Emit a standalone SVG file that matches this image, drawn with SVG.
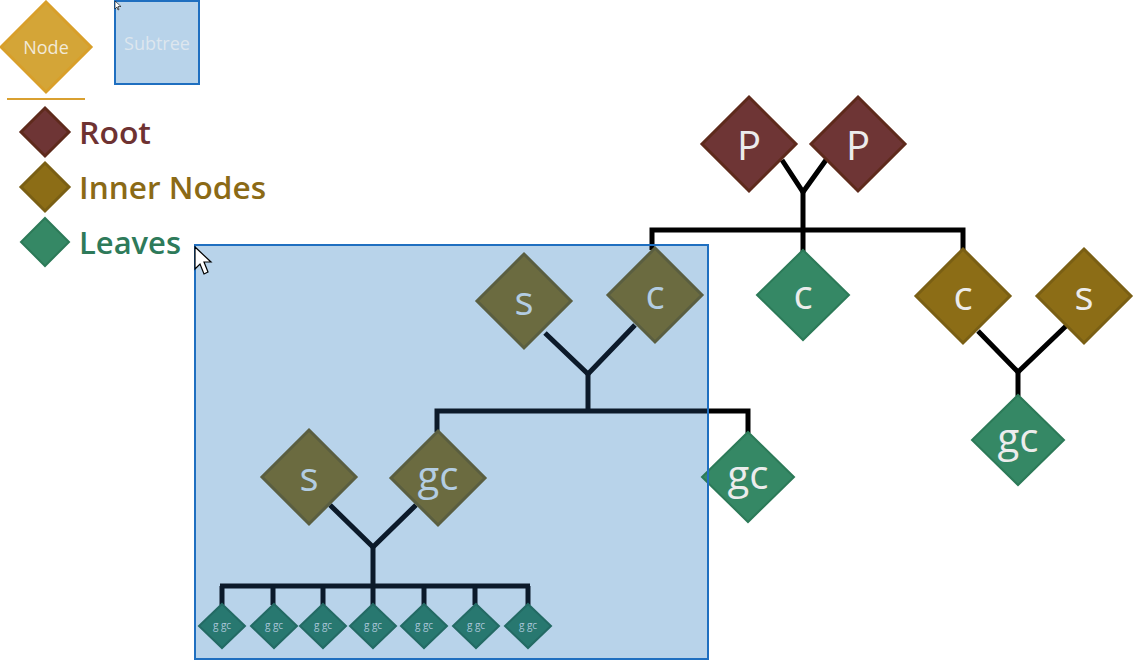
<svg xmlns="http://www.w3.org/2000/svg" width="1134" height="661" viewBox="0 0 1134 661">
<style>
text{font-family:"Open Sans","Noto Sans",sans-serif;text-anchor:middle;dominant-baseline:central}
.root{fill:#6e3535;stroke:#5e2a1c;stroke-width:3}
.inner{fill:#8c6d16;stroke:#7a5f14;stroke-width:3}
.leaf{fill:#358865;stroke:#2c7a58;stroke-width:2}
.tin{fill:#6b6b40;stroke:#5a5e40;stroke-width:3}
.tleaf{fill:#287870;stroke:#236a64;stroke-width:2}
.lbl{fill:#ececec;font-size:40px}
.tlbl{fill:#b3cde3;font-size:40px}
.slbl{fill:#a9c6d8;font-size:10px}
.ln{stroke:#000;stroke-width:5;fill:none;stroke-linecap:butt}
.nv{stroke:#0c1a2a;stroke-width:5;fill:none}
.leg{font-size:31px;font-weight:600;text-anchor:start}
</style>

<!-- Legend -->
<g id="legend-node">
<polygon points="46,2 91,47 46,92 1,47" fill="#d4a537" stroke="#d89f2a" stroke-width="3"/>
<text x="46" y="47" font-size="18" fill="#f2ead8">Node</text>
</g>
<g id="legend-subtree">
<rect x="115" y="1" width="84" height="83" fill="#b8d3ea" stroke="#1f6fc0" stroke-width="2"/>
<text x="157" y="43" font-size="18" fill="#dde6ee">Subtree</text>
</g>
<line x1="7" y1="99" x2="85" y2="99" stroke="#d9a030" stroke-width="2"/>
<g id="legend-root">
<polygon points="45,108 69,132 45,156 21,132" class="root" stroke-width="2"/>
<text x="79" y="132" class="leg" fill="#6e3232" textLength="72" lengthAdjust="spacingAndGlyphs">Root</text>
</g>
<g id="legend-inner">
<polygon points="45,163 69,187 45,211 21,187" class="inner" stroke-width="2"/>
<text x="79" y="187" class="leg" fill="#8b6a16" textLength="187" lengthAdjust="spacingAndGlyphs">Inner Nodes</text>
</g>
<g id="legend-leaves">
<polygon points="45,218 69,242 45,266 21,242" class="leaf"/>
<text x="79" y="242" class="leg" fill="#2e7a5a" textLength="102" lengthAdjust="spacingAndGlyphs">Leaves</text>
</g>

<!-- Subtree box fill -->
<rect id="subtree-box" x="195" y="245" width="513" height="414" fill="#b8d3ea"/>

<!-- Connectors -->
<g id="connectors">
<polyline class="ln" points="782,160 803,192 826,160"/>
<line class="ln" x1="803" y1="190" x2="803" y2="252"/>
<polyline class="ln" points="652,250 652,230 963,230 963,252"/>
<polyline class="ln" points="978,331 1018,372 1066,326"/>
<line class="ln" x1="1018" y1="370" x2="1018" y2="396"/>
<polyline class="nv" points="545,333 588,374 635,325"/>
<line class="nv" x1="588" y1="372" x2="588" y2="411"/>
<polyline class="nv" points="437,432 437,411 708,411"/>
<polyline class="ln" points="708,411 748,411 748,433"/>
<polyline class="nv" points="330,505 373,547 416,505"/>
<line class="nv" x1="373" y1="545" x2="373" y2="586"/>
<line class="nv" x1="220" y1="586" x2="530" y2="586"/>
<path class="nv" d="M222,586V605M273,586V605M323,586V605M373,586V605M424,586V605M475,586V605M528,586V605"/>
</g>

<!-- Nodes outside subtree -->
<g id="p1"><polygon class="root" points="749,97 796,144 749,191 702,144"/><text class="lbl" x="749" y="144">P</text></g>
<g id="p2"><polygon class="root" points="858,97 905,144 858,191 811,144"/><text class="lbl" x="858" y="144">P</text></g>
<g id="c-leaf"><polygon class="leaf" points="803,250 849,295 803,340 757,295"/><text class="lbl" x="803" y="293">c</text></g>
<g id="c-inner"><polygon class="inner" points="963,249 1010,296 963,343 916,296"/><text class="lbl" x="963" y="294">c</text></g>
<g id="s-inner"><polygon class="inner" points="1084,249 1131,296 1084,343 1037,296"/><text class="lbl" x="1084" y="294">s</text></g>
<g id="gc-right"><polygon class="leaf" points="1018,395 1064,440 1018,485 972,440"/><text class="lbl" x="1018" y="436">gc</text></g>

<!-- Nodes inside subtree -->
<g id="s-sub"><polygon class="tin" points="524,254 571,301 524,348 477,301"/><text class="tlbl" x="524" y="299">s</text></g>
<g id="c-sub"><polygon class="tin" points="655,248 702,295 655,342 608,295"/><text class="tlbl" x="655" y="293">c</text></g>
<g id="s-sub2"><polygon class="tin" points="309,430 356,477 309,524 262,477"/><text class="tlbl" x="309" y="475">s</text></g>
<g id="gc-sub"><polygon class="tin" points="438,431 485,478 438,525 391,478"/><text class="tlbl" x="438" y="474">gc</text></g>
<g id="ggc1"><polygon class="tleaf" points="222,604 245,626 222,648 199,626"/><text class="slbl" x="222" y="625">g gc</text></g>
<g id="ggc2"><polygon class="tleaf" points="274,604 297,626 274,648 251,626"/><text class="slbl" x="274" y="625">g gc</text></g>
<g id="ggc3"><polygon class="tleaf" points="323,604 346,626 323,648 300,626"/><text class="slbl" x="323" y="625">g gc</text></g>
<g id="ggc4"><polygon class="tleaf" points="373,604 396,626 373,648 350,626"/><text class="slbl" x="373" y="625">g gc</text></g>
<g id="ggc5"><polygon class="tleaf" points="424,604 447,626 424,648 401,626"/><text class="slbl" x="424" y="625">g gc</text></g>
<g id="ggc6"><polygon class="tleaf" points="476,604 499,626 476,648 453,626"/><text class="slbl" x="476" y="625">g gc</text></g>
<g id="ggc7"><polygon class="tleaf" points="528,604 551,626 528,648 505,626"/><text class="slbl" x="528" y="625">g gc</text></g>

<g id="gc-mid"><polygon class="leaf" points="748,432 794,477 748,522 702,477"/><text class="lbl" x="748" y="473">gc</text></g>

<!-- Subtree border on top -->
<rect x="195" y="245" width="513" height="414" fill="none" stroke="#1f6fc0" stroke-width="2"/>

<!-- cursors -->
<polygon points="195,247 195,269 200,264 204,274 208,272 204,262 211,262" fill="#fff" stroke="#000" stroke-width="1.2"/>
<polygon points="115,1 115,9 117,7 118,10 119,9.5 118,6.5 121,6.5" fill="#fff" stroke="#000" stroke-width="0.6"/>
</svg>
